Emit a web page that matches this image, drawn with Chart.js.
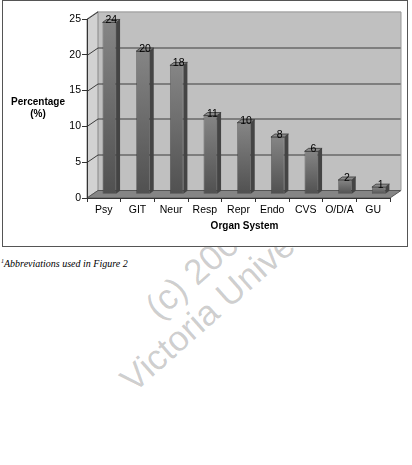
<!DOCTYPE html>
<html>
<head>
<meta charset="utf-8">
<script src="https://cdn.jsdelivr.net/npm/chart.js@4.4.0/dist/chart.umd.min.js"></script>
<style>
  html, body { margin: 0; padding: 0; background: #fff; width: 412px; height: 465px; overflow: hidden; }
  .marca { position: absolute; font-family: Arial, "Liberation Sans", sans-serif; font-size: 35.5px; color: rgba(0,0,0,0.2); white-space: nowrap; transform-origin: 0 100%; transform: rotate(-41.5deg); line-height: 1; }
  #caixa { position: absolute; left: 2px; top: 0; width: 404px; height: 245px; border: 1px solid #555; background: #fff; }
  #grafico { position: absolute; left: 0; top: 0; }
  #legenda { position: absolute; left: 1px; top: 258px; font-family: "Liberation Serif", "Times New Roman", serif; font-style: italic; font-size: 10px; color: #000; }
  #legenda sup { font-size: 6px; }
</style>
</head>
<body>
<div class="marca" style="left:163px; top:290px;">(c) 2007</div>
<div class="marca" style="left:138px; top:363px;">Victoria University</div>
<div id="caixa"></div>
<canvas id="grafico" width="412" height="250"></canvas>
<div id="legenda"><sup>1</sup>Abbreviations used in Figure 2</div>
<script>
window.addEventListener('DOMContentLoaded', () => {
    // Dados
    const sistemas = ['Psy', 'GIT', 'Neur', 'Resp', 'Repr', 'Endo', 'CVS', 'O/D/A', 'GU'];
    const percentuais = [24, 20, 18, 11, 10, 8, 6, 2, 1];
    const marcasY = [0, 5, 10, 15, 20, 25];

    // profundidade do "3D"
    const fundoX = 11, fundoY = -7.5;
    const barraX = 4, barraY = -3;
    const meioX = 5.5, meioY = -3.7;

    const fonte = 'Arial, "Liberation Sans", sans-serif';

    const efeito3D = {
        id: 'efeito3D',
        beforeDraw(chart) {
            const { ctx, chartArea: a, scales: { y } } = chart;
            ctx.save();
            // parede de fundo
            ctx.fillStyle = '#c0c0c0';
            ctx.fillRect(a.left + fundoX, a.top + fundoY, a.right - a.left, a.bottom - a.top);
            // parede lateral
            ctx.fillStyle = '#d2d2d2';
            ctx.beginPath();
            ctx.moveTo(a.left, a.top);
            ctx.lineTo(a.left + fundoX, a.top + fundoY);
            ctx.lineTo(a.left + fundoX, a.bottom + fundoY);
            ctx.lineTo(a.left, a.bottom);
            ctx.closePath();
            ctx.fill();
            ctx.strokeStyle = '#888';
            ctx.lineWidth = 1;
            ctx.stroke();
            // chão
            ctx.fillStyle = '#858585';
            ctx.beginPath();
            ctx.moveTo(a.left, a.bottom);
            ctx.lineTo(a.right, a.bottom);
            ctx.lineTo(a.right + fundoX, a.bottom + fundoY);
            ctx.lineTo(a.left + fundoX, a.bottom + fundoY);
            ctx.closePath();
            ctx.fill();
            ctx.strokeStyle = '#555';
            ctx.stroke();
            // linhas de grade
            ctx.strokeStyle = '#3c3c3c';
            ctx.lineWidth = 1;
            marcasY.slice(1).forEach(v => {
                const py = Math.round(y.getPixelForValue(v)) + 0.5;
                ctx.beginPath();
                ctx.moveTo(a.left, py);
                ctx.lineTo(a.left + fundoX, py + fundoY);
                if (v < 25) ctx.lineTo(a.right + fundoX, py + fundoY);
                ctx.stroke();
            });
            // borda da parede de fundo
            ctx.strokeStyle = '#9a9a9a';
            ctx.beginPath();
            ctx.moveTo(a.left + fundoX, a.top + fundoY + 0.5);
            ctx.lineTo(a.right + fundoX, a.top + fundoY + 0.5);
            ctx.lineTo(a.right + fundoX, a.bottom + fundoY);
            ctx.stroke();
            ctx.restore();
        },
        beforeDatasetsDraw(chart) {
            chart.ctx.save();
            chart.ctx.translate(meioX, meioY);
        },
        afterDatasetsDraw(chart) {
            const { ctx } = chart;
            const meta = chart.getDatasetMeta(0);
            meta.data.forEach((barra, i) => {
                const esq = barra.x - barra.width / 2;
                const dir = barra.x + barra.width / 2;
                // lateral
                ctx.fillStyle = '#444';
                ctx.beginPath();
                ctx.moveTo(dir, barra.y);
                ctx.lineTo(dir + barraX, barra.y + barraY);
                ctx.lineTo(dir + barraX, barra.base + barraY);
                ctx.lineTo(dir, barra.base);
                ctx.closePath();
                ctx.fill();
                // topo
                ctx.fillStyle = '#8a8a8a';
                ctx.strokeStyle = '#333';
                ctx.lineWidth = 0.8;
                ctx.beginPath();
                ctx.moveTo(esq, barra.y);
                ctx.lineTo(esq + barraX, barra.y + barraY);
                ctx.lineTo(dir + barraX, barra.y + barraY);
                ctx.lineTo(dir, barra.y);
                ctx.closePath();
                ctx.fill();
                ctx.stroke();
                // rótulo do valor
                ctx.fillStyle = '#000';
                ctx.font = '10.5px ' + fonte;
                ctx.textAlign = 'center';
                ctx.textBaseline = 'alphabetic';
                ctx.fillText(String(percentuais[i]), barra.x + 2, barra.y + 1);
            });
            ctx.restore();

            // títulos dos eixos
            const a = chart.chartArea;
            ctx.save();
            ctx.fillStyle = '#000';
            ctx.font = 'bold 10px ' + fonte;
            ctx.textAlign = 'center';
            ctx.textBaseline = 'middle';
            ctx.fillText('Percentage', 38, 102);
            ctx.fillText('(%)', 38, 114.5);
            ctx.fillText('Organ System', (a.left + a.right) / 2 + 6, 226);
            ctx.restore();
        }
    };

    const ctx = document.getElementById('grafico').getContext('2d');
    new Chart(ctx, {
        type: 'bar',
        data: {
            labels: sistemas,
            datasets: [{
                data: percentuais,
                backgroundColor: (c) => {
                    const chart = c.chart;
                    const y = chart.scales.y;
                    if (!y || !chart.chartArea) return '#6a6a6a';
                    const topo = y.getPixelForValue(percentuais[c.dataIndex]);
                    const g = chart.ctx.createLinearGradient(0, topo, 0, y.getPixelForValue(0));
                    g.addColorStop(0, '#858585');
                    g.addColorStop(1, '#505050');
                    return g;
                },
                borderColor: '#333',
                borderWidth: 0.6,
                categoryPercentage: 1,
                barPercentage: 0.4
            }]
        },
        options: {
            responsive: false,
            animation: false,
            layout: { padding: { left: 0, right: 22, top: 19, bottom: 0 } },
            plugins: {
                legend: { display: false },
                tooltip: { enabled: false }
            },
            scales: {
                x: {
                    offset: true,
                    grid: { offset: true, drawOnChartArea: false, drawTicks: true, tickLength: 4, color: '#333' },
                    border: { display: true, color: '#333', width: 1 },
                    ticks: { color: '#000', font: { family: fonte, size: 10.5 }, padding: 2, maxRotation: 0, autoSkip: false },
                    afterFit: (s) => { s.height = 52; }
                },
                y: {
                    min: 0,
                    max: 25,
                    grid: { drawOnChartArea: false, drawTicks: true, tickLength: 5, color: '#333' },
                    border: { display: true, color: '#333', width: 1 },
                    ticks: {
                        stepSize: 5,
                        color: '#000',
                        font: { family: fonte, size: 10.5 },
                        padding: 1,
                        callback: (v) => marcasY.includes(v) ? String(v) : ''
                    },
                    afterFit: (s) => { s.width = 87; }
                }
            }
        },
        plugins: [efeito3D]
    });
});
</script>
</body>
</html>
